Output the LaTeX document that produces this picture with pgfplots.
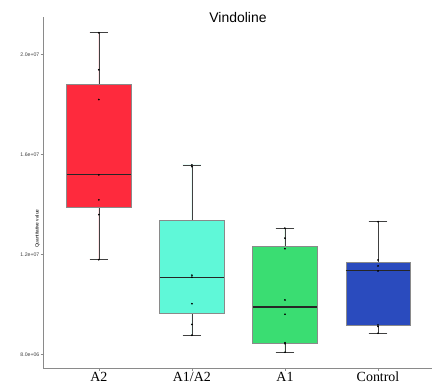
\documentclass[border=0pt]{standalone}
\usepackage{fontspec}
\setmainfont{Liberation Serif}
\setsansfont{Liberation Sans}
\usepackage{pgfplots}
\pgfplotsset{compat=1.18}
\usepgfplotslibrary{statistics}
\definecolor{cAtwo}{HTML}{FE2A3D}
\definecolor{cAmix}{HTML}{5FF8D8}
\definecolor{cAone}{HTML}{3ADD72}
\definecolor{cCtrl}{HTML}{2A4BBE}
\definecolor{edge}{HTML}{8A8A8A}
\begin{document}
\begin{tikzpicture}[x=1bp,y=1bp]
\path[use as bounding box] (0,0) rectangle (433,385);
\begin{axis}[
  at={(43bp,17bp)}, anchor=south west,
  scale only axis, width=389bp, height=351bp,
  xmin=0.4, xmax=4.58, ymin=7.47, ymax=21.5,
  axis x line*=bottom, axis y line*=left,
  axis line style={-, edge, line width=0.9pt},
  xtick={1,2,3,4}, xticklabels={A2,A1/A2,A1,Control},
  ytick={8,12,16,20}, yticklabels={8.0e+06,1.2e+07,1.6e+07,2.0e+07},
  tick align=outside, major tick length=2.5bp,
  tick style={edge, line width=0.5pt},
  x tick label style={font=\fontsize{14}{14}\selectfont, inner sep=0pt, yshift=-1.5bp},
  y tick label style={font=\sffamily\fontsize{5.2}{6}\selectfont, inner sep=1pt, text=black!75},
  ylabel={Quantitative value},
  ylabel style={font=\sffamily\fontsize{4.8}{5}\selectfont, at={(rel axis cs:0,0.485)}, anchor=south, xshift=-31bp},
  clip=false,
  boxplot/draw direction=y,
  boxplot/box extend=0.69,
  boxplot/whisker extend=0.2,
  boxplot/every median/.style={draw=black!85, line width=1.1pt},
  boxplot/every whisker/.style={draw=black!75, line width=0.6pt},
  boxplot/every box/.style={draw=edge, line width=0.8pt},
]
\addplot[fill=cAtwo, boxplot prepared={draw position=1, median=15.19, upper quartile=18.79, lower quartile=13.90, upper whisker=20.87, lower whisker=11.80}] coordinates {};
\addplot[fill=cAmix, boxplot prepared={draw position=2, median=11.10, upper quartile=13.35, lower quartile=9.64, upper whisker=15.59, lower whisker=8.78}] coordinates {};
\addplot[fill=cAone, boxplot prepared={draw position=3, median=9.91, upper quartile=12.35, lower quartile=8.44, upper whisker=13.06, lower whisker=8.10}] coordinates {};
\addplot[fill=cCtrl, boxplot prepared={draw position=4, median=11.35, upper quartile=11.68, lower quartile=9.16, upper whisker=13.32, lower whisker=8.86}] coordinates {};
\addplot[only marks, mark=*, mark size=0.65pt, black] coordinates {
(1,20.87) (1,19.39) (1,18.20) (1,15.19) (1,14.19) (1,13.60) (1,11.80)
(2,8.78) (2,9.21) (2,10.04) (2,11.10) (2,11.18) (2,15.52) (2,15.59)
(3,8.10) (3,8.44) (3,8.48) (3,9.62) (3,10.19) (3,12.24) (3,12.66) (3,13.06)
(4,8.86) (4,9.13) (4,9.19) (4,11.35) (4,11.55) (4,11.79) (4,13.32)
};
\end{axis}
\node[anchor=base, font=\sffamily\fontsize{14}{14}\selectfont] at (238,363) {Vindoline};
\end{tikzpicture}
\end{document}
